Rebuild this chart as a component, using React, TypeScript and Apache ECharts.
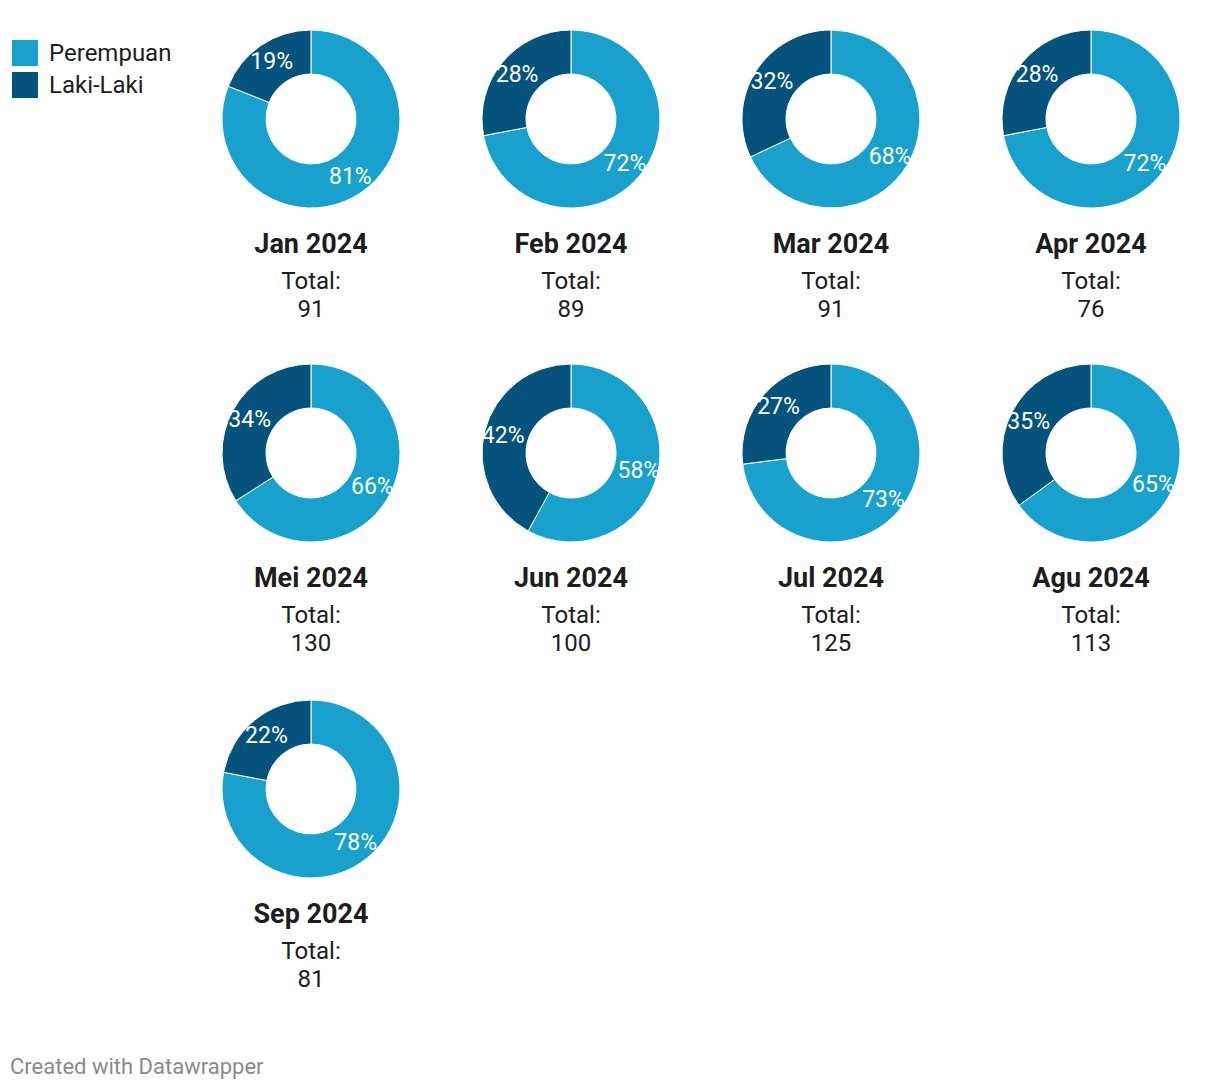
import React, { useEffect, useRef } from "react";
import * as echarts from "echarts";

const months = ["Jan 2024", "Feb 2024", "Mar 2024", "Apr 2024", "Mei 2024", "Jun 2024", "Jul 2024", "Agu 2024", "Sep 2024"];
const perempuan = [81, 72, 68, 72, 66, 58, 73, 65, 78];
const lakiLaki = [19, 28, 32, 28, 34, 42, 27, 35, 22];
const totals = [91, 89, 91, 76, 130, 100, 125, 113, 81];
const seriesNames = ["Perempuan", "Laki-Laki"];
const colors = ["#18a1cd", "#05537d"];

export default function App() {
  const ref = useRef<HTMLDivElement>(null);
  useEffect(() => {
    document.body.style.margin = "0";
    const chart = echarts.init(ref.current!, null, { renderer: "svg" });
    const colX = [311, 571, 831, 1091];
    const rowY = [119, 453, 789];
    const series: any[] = [];
    const graphics: any[] = [];
    months.forEach((m, i) => {
      const cx = colX[i % 4];
      const cy = rowY[Math.floor(i / 4)];
      series.push({
        type: "pie",
        name: m,
        center: [cx, cy],
        radius: [45, 89],
        startAngle: 90,
        clockwise: true,
        silent: true,
        itemStyle: { borderColor: "#ffffff", borderWidth: 1 },
        label: {
          show: true,
          position: "inside",
          color: "#ffffff",
          fontFamily: "Roboto",
          fontSize: 23,
          formatter: "{c}%",
        },
        labelLine: { show: false },
        data: [
          { name: seriesNames[0], value: perempuan[i], itemStyle: { color: colors[0] } },
          { name: seriesNames[1], value: lakiLaki[i], itemStyle: { color: colors[1] } },
        ],
      });
      graphics.push({
        type: "text",
        x: cx,
        y: cy + 125,
        style: { text: m, fill: "#1d1d1d", font: "bold 27px Roboto", textAlign: "center", textVerticalAlign: "middle" },
      });
      graphics.push({
        type: "text",
        x: cx,
        y: cy + 162,
        style: { text: "Total:", fill: "#1d1d1d", font: "24px Roboto", textAlign: "center", textVerticalAlign: "middle" },
      });
      graphics.push({
        type: "text",
        x: cx,
        y: cy + 190,
        style: { text: String(totals[i]), fill: "#1d1d1d", font: "24px Roboto", textAlign: "center", textVerticalAlign: "middle" },
      });
    });
    graphics.push({
      type: "text",
      x: 10,
      y: 1066,
      style: { text: "Created with Datawrapper", fill: "#8a8a8a", font: "22px Roboto", textAlign: "left", textVerticalAlign: "middle" },
    });
    chart.setOption({
      animation: false,
      color: colors,
      legend: {
        orient: "vertical",
        left: 10,
        top: 38,
        padding: 0,
        icon: "rect",
        itemWidth: 28,
        itemHeight: 28,
        itemGap: 2,
        selectedMode: false,
        data: seriesNames,
        textStyle: { fontFamily: "Roboto", fontSize: 24, lineHeight: 28, color: "#1d1d1d", padding: [0, 0, 0, 5] },
      },
      series,
      graphic: graphics,
    });
    return () => chart.dispose();
  }, []);
  return <div ref={ref} style={{ width: 1220, height: 1090 }} />;
}
